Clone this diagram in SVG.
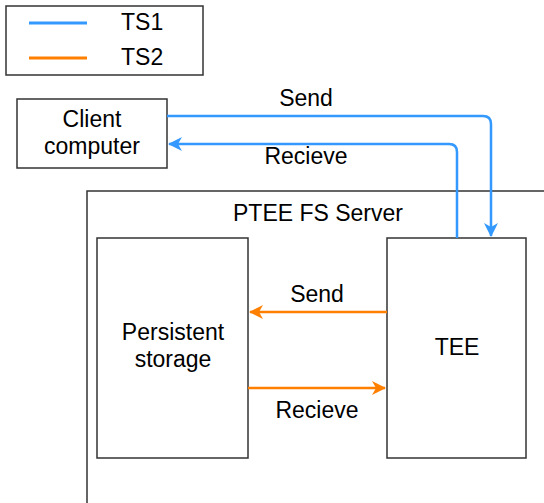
<svg xmlns="http://www.w3.org/2000/svg" width="544" height="503" viewBox="0 0 544 503">
<style>
text{font-family:"Liberation Sans",Arial,sans-serif;font-size:23px;fill:#000}
.box{fill:#fff;stroke:#333;stroke-width:1.5}
.blue{fill:none;stroke:#3399FF;stroke-width:2.5}
.orange{fill:none;stroke:#FF8000;stroke-width:2.5}
</style>
<defs>
<marker id="ao" markerWidth="14" markerHeight="14" refX="13" refY="7" orient="auto" markerUnits="userSpaceOnUse"><path d="M0,0 L14,7 L0,14 L4,7 Z" fill="#FF8000"/></marker>
<marker id="ab2" markerWidth="14" markerHeight="14" refX="13" refY="7" orient="auto" markerUnits="userSpaceOnUse"><path d="M0,0 L14,7 L0,14 L4,7 Z" fill="#3399FF"/></marker>
</defs>
<rect width="544" height="503" fill="#fff"/>
<g id="legend">
<rect class="box" x="6" y="6" width="197" height="69"/>
<line x1="29" y1="23" x2="87" y2="23" stroke="#3399FF" stroke-width="3"/>
<text x="121" y="30">TS1</text>
<line x1="29" y1="58" x2="87" y2="58" stroke="#FF8000" stroke-width="3"/>
<text x="121" y="65">TS2</text>
</g>
<g id="client">
<rect class="box" x="17" y="99" width="150" height="69"/>
<text x="92" y="127" text-anchor="middle">Client</text>
<text x="92" y="154" text-anchor="middle">computer</text>
</g>
<g id="server">
<rect class="box" x="87" y="191" width="470" height="330"/>
<text x="318" y="221" text-anchor="middle">PTEE FS Server</text>
</g>
<g id="storage">
<rect class="box" x="97" y="238" width="151" height="220"/>
<text x="173" y="340" text-anchor="middle">Persistent</text>
<text x="173" y="367" text-anchor="middle">storage</text>
</g>
<g id="tee">
<rect class="box" x="387" y="238" width="139" height="220"/>
<text x="457" y="355" text-anchor="middle">TEE</text>
</g>
<g id="connectors">
<path class="blue" d="M167,116 H483 Q491,116 491,124 V236" marker-end="url(#ab2)"/>
<path class="blue" d="M457,238 V152 Q457,144 449,144 H169" marker-end="url(#ab2)"/>
<path class="orange" d="M387,312 H250" marker-end="url(#ao)"/>
<path class="orange" d="M248,388 H385" marker-end="url(#ao)"/>
<text x="306" y="106" text-anchor="middle">Send</text>
<text x="306" y="164" text-anchor="middle">Recieve</text>
<text x="317" y="302" text-anchor="middle">Send</text>
<text x="317" y="418" text-anchor="middle">Recieve</text>
</g>
</svg>
